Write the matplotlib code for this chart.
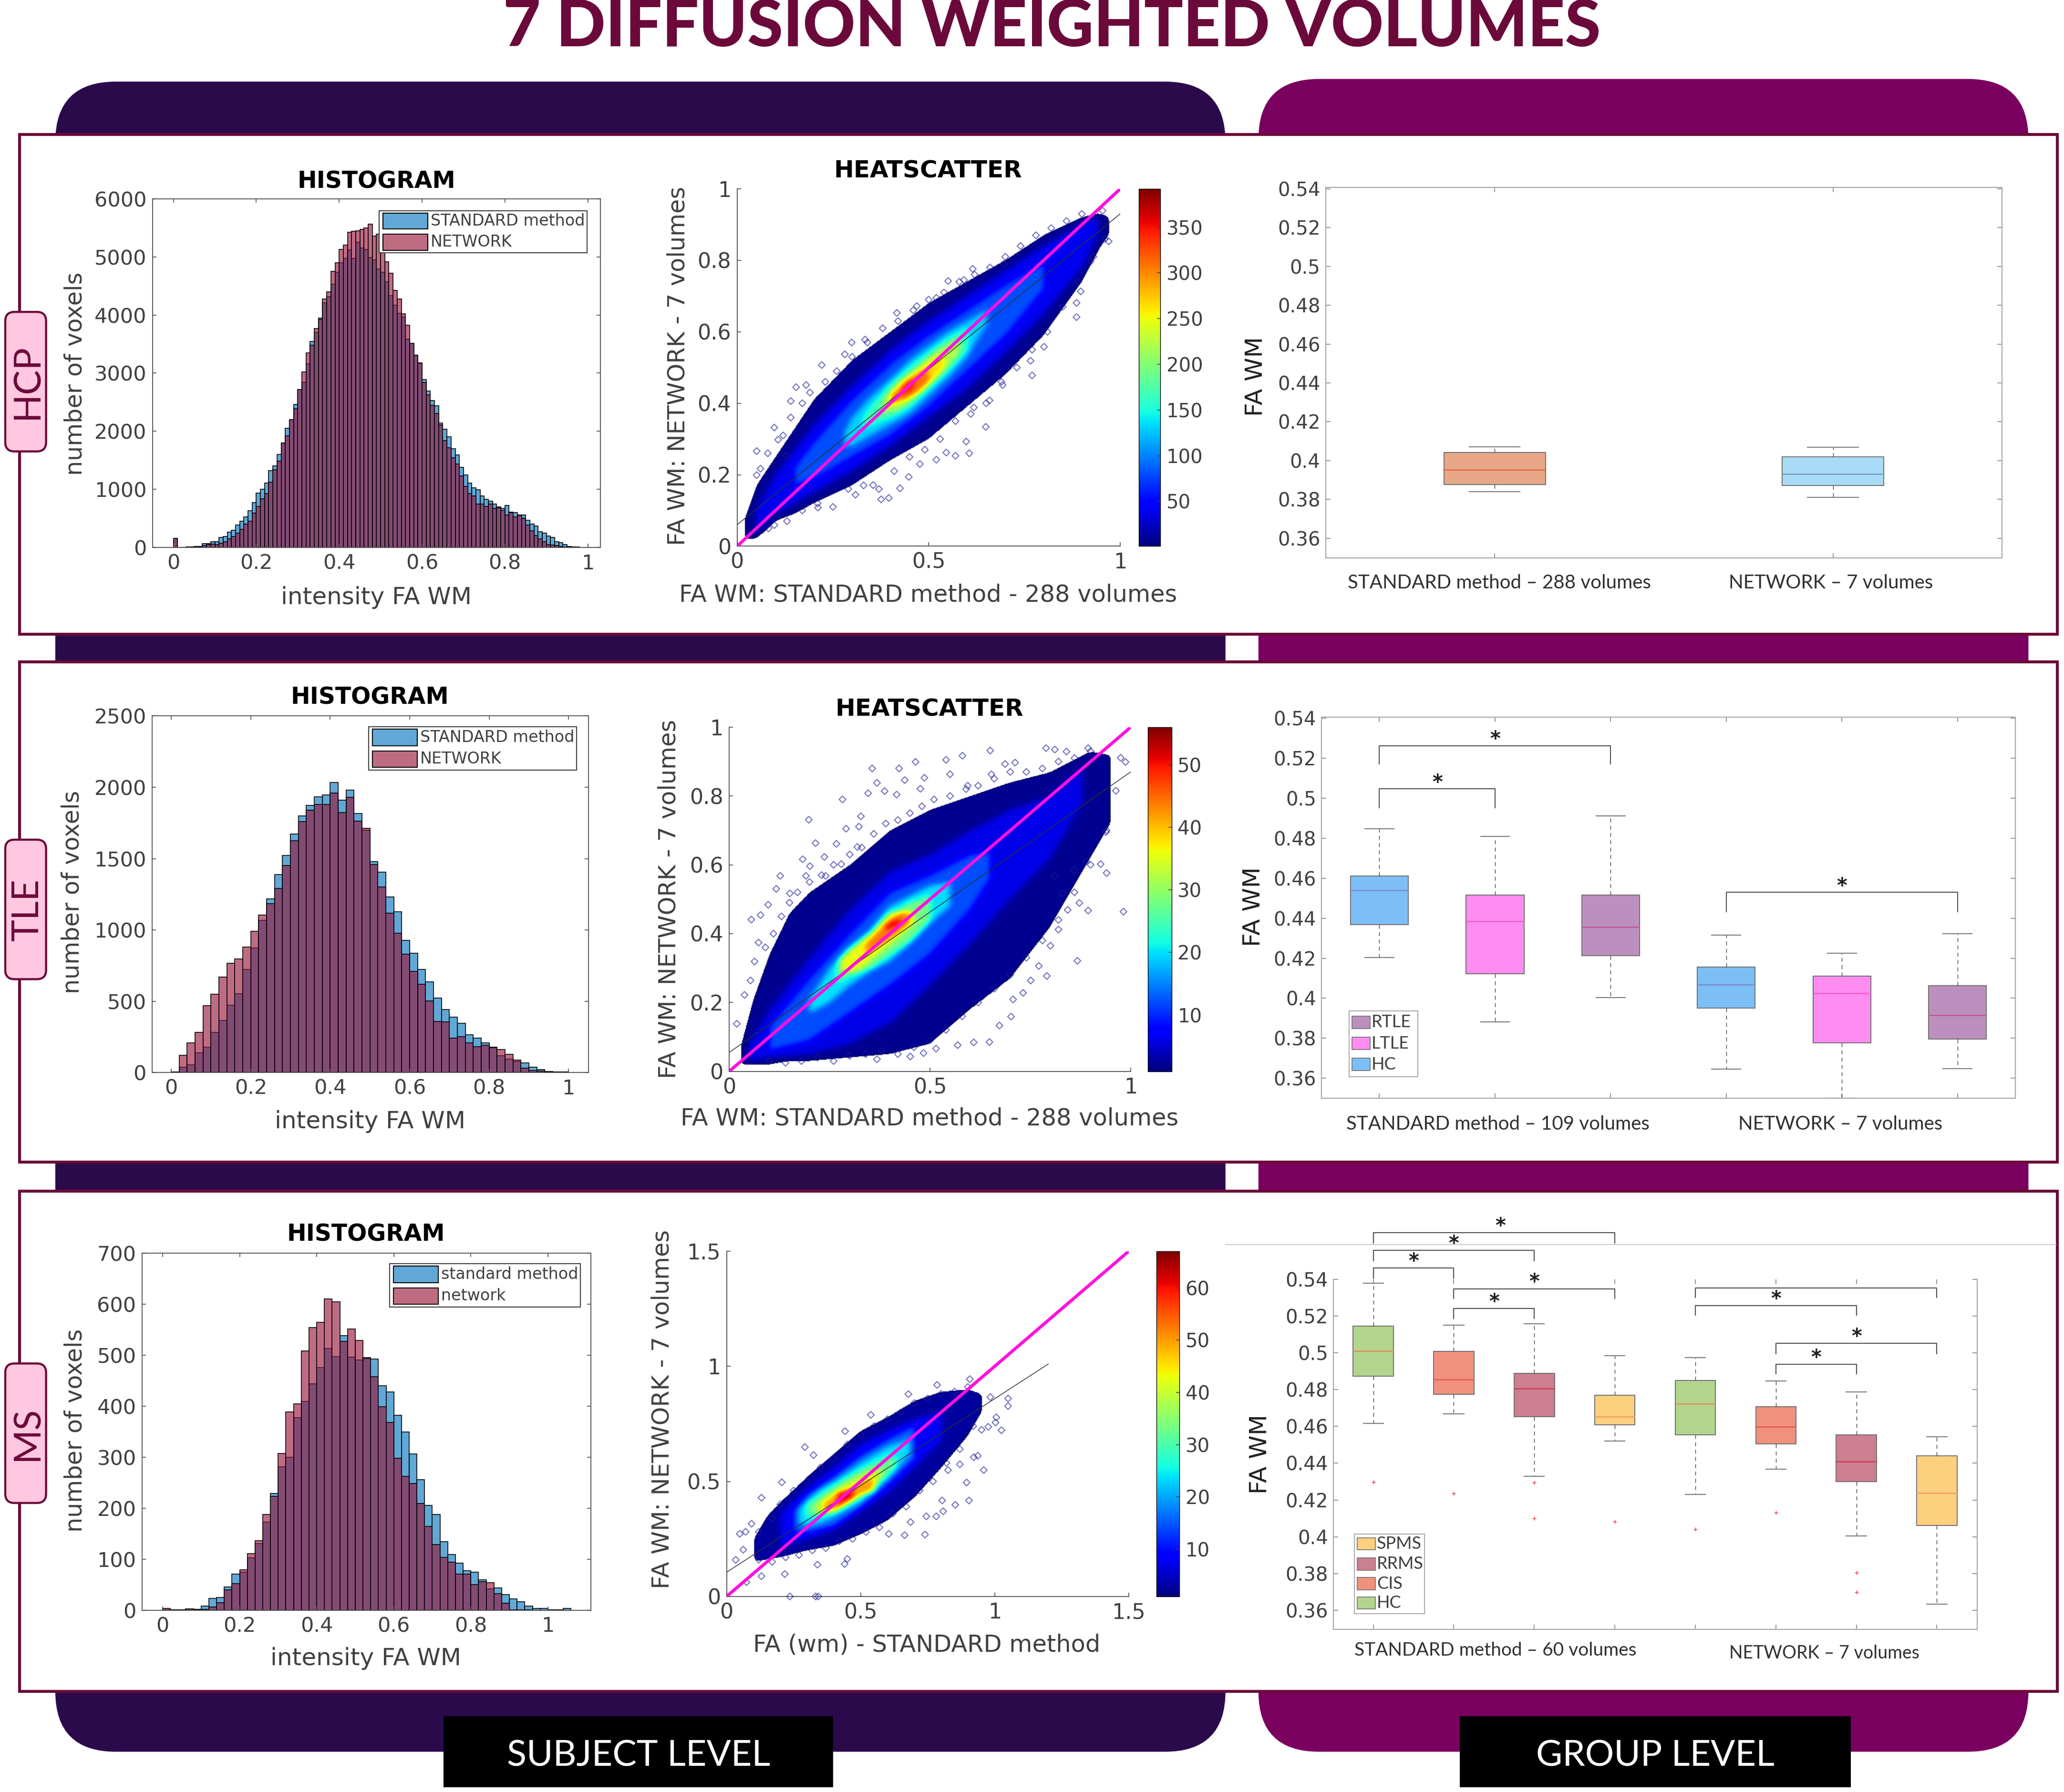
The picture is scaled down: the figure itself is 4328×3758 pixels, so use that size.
import matplotlib
matplotlib.use("Agg")
import matplotlib.pyplot as plt
import numpy as np
from matplotlib.cm import ScalarMappable
from matplotlib.colors import Normalize
from matplotlib.patches import FancyBboxPatch, Rectangle

# layout is measured on a 1568 wide copy of the picture
W, H = 1568.0, 1361.6
MAROON = "#6B0A3A"
DARK = "#2B0A4C"
PURPLE = "#7A0060"
PINK = "#FFC8E0"
TXT = "#404040"
BLUE_F = (0.00, 0.45, 0.74, 0.62)
RED_F = (0.60, 0.07, 0.22, 0.62)
EDGE = (0, 0, 0, 0.9)

# histograms: counts per bin
HCP_STD = [160, 4, 4, 6, 10, 16, 20, 68, 68, 100, 100, 175, 190, 266, 296, 390, 450, 525, 630, 770,
           940, 1000, 1105, 1320, 1400, 1600, 1800, 2050, 2200, 2460, 2720, 2840, 3160, 3545, 3700,
           3945, 4210, 4315, 4530, 4735, 4900, 4970, 5120, 4970, 5255, 5150, 5130, 4990, 4950, 4790,
           4735, 4570, 4330, 4170, 4030, 3960, 3585, 3510, 3305, 3165, 2890, 2690, 2525, 2435, 2145,
           2035, 1905, 1700, 1595, 1380, 1245, 1105, 1030, 990, 885, 830, 800, 745, 695, 670,
           725, 610, 600, 560, 560, 465, 400, 370, 275, 245, 195, 175, 100, 80, 50, 20, 10, 6]
HCP_NET = [160, 4, 4, 6, 10, 16, 20, 30, 50, 60, 50, 76, 100, 145, 194, 250, 315, 400, 450, 590,
           705, 835, 925, 1125, 1340, 1485, 1800, 1920, 2200, 2390, 2720, 3020, 3350, 3480, 3765,
           3920, 4275, 4400, 4750, 4895, 5130, 5205, 5425, 5440, 5450, 5475, 5495, 5565, 5360, 5390,
           5100, 4915, 4715, 4420, 4275, 4020, 3820, 3510, 3305, 3175, 2840, 2630, 2450, 2310, 2110,
           1835, 1715, 1540, 1435, 1235, 1055, 930, 885, 745, 745, 705, 745, 670, 685, 645,
           560, 600, 525, 550, 505, 390, 290, 210, 145, 100, 50, 40, 30, 20, 10, 8, 8, 5]
TLE_STD = [5, 38, 56, 140, 178, 282, 366, 472, 553, 723, 874, 1067, 1218, 1390, 1523, 1672, 1799,
           1873, 1932, 1948, 2032, 1910, 1980, 1815, 1700, 1478, 1406, 1232, 1128, 927, 836, 723,
           635, 524, 441, 389, 344, 264, 242, 210, 178, 118, 95, 79, 68, 38, 22, 8, 5, 5]
TLE_NET = [5, 122, 208, 282, 470, 551, 671, 768, 798, 881, 992, 1105, 1184, 1292, 1451, 1627, 1760,
           1840, 1880, 1880, 1959, 1824, 1930, 1763, 1711, 1458, 1300, 1119, 976, 829, 710, 621,
           502, 359, 355, 242, 253, 208, 181, 192, 174, 163, 129, 88, 32, 16, 11, 5, 5, 5]
MS_STD = [1, 1, 1, 3, 2, 8, 23, 25, 46, 71, 75, 103, 131, 173, 229, 281, 300, 377, 409, 444, 475,
          513, 497, 538, 496, 490, 495, 492, 440, 428, 382, 349, 306, 256, 205, 188, 134, 109, 92,
          77, 75, 60, 42, 44, 31, 22, 17, 8, 4, 4, 1, 1, 4]
MS_NET = [4, 1, 1, 3, 2, 2, 6, 15, 40, 52, 79, 111, 136, 188, 223, 307, 388, 404, 508, 554, 564,
          610, 604, 527, 551, 529, 493, 458, 399, 368, 298, 262, 248, 209, 164, 129, 104, 94, 71,
          71, 50, 56, 54, 33, 14, 1, 1, 1, 0, 0, 1, 1, 0]

HIST_XTICKS = [0, 0.2, 0.4, 0.6, 0.8, 1]
HIST_XLABELS = ["0", "0.2", "0.4", "0.6", "0.8", "1"]
HCP_YTICKS = [0, 1000, 2000, 3000, 4000, 5000, 6000]
TLE_YTICKS = [0, 500, 1000, 1500, 2000, 2500]
MS_YTICKS = [0, 100, 200, 300, 400, 500, 600, 700]

# heatscatter: density bands, each one (count, x, lower y, upper y)
HCP_BANDS = [
    (8, [.02, .05, .1, .15, .2, .3, .4, .5, .6, .7, .8, .9, .95, .97],
     [.02, .02, .07, .09, .12, .17, .24, .30, .39, .48, .59, .74, .84, .87],
     [.08, .17, .25, .33, .41, .52, .60, .68, .74, .80, .87, .92, .93, .92]),
    (40, [.05, .1, .2, .3, .4, .5, .6, .7, .8, .9, .94],
     [.04, .09, .15, .21, .28, .36, .44, .54, .65, .78, .87],
     [.10, .20, .34, .45, .55, .63, .70, .77, .84, .90, .92]),
    (80, [.15, .2, .3, .4, .5, .6, .7, .8],
     [.17, .19, .25, .31, .39, .49, .59, .72],
     [.22, .29, .41, .51, .59, .66, .73, .79]),
    (130, [.28, .3, .35, .4, .45, .5, .55, .6, .65],
     [.28, .28, .31, .34, .37, .42, .47, .53, .62],
     [.32, .36, .42, .47, .52, .56, .60, .63, .66]),
    (170, [.33, .35, .4, .45, .5, .55, .6],
     [.33, .34, .36, .39, .44, .49, .55],
     [.36, .39, .45, .50, .54, .58, .61]),
    (220, [.38, .42, .46, .5, .54, .58],
     [.37, .38, .41, .45, .49, .54],
     [.41, .46, .49, .53, .56, .58]),
    (265, [.40, .44, .48, .52, .54],
     [.39, .41, .43, .47, .50],
     [.43, .47, .50, .53, .54]),
    (310, [.40, .44, .48, .50],
     [.40, .41, .44, .46],
     [.42, .46, .49, .49]),
    (350, [.43, .46], [.42, .44], [.45, .47]),
]
TLE_BANDS = [
    (2, [.03, .06, .1, .15, .2, .3, .4, .5, .6, .7, .8, .9, .95],
     [.02, .02, .02, .03, .03, .04, .05, .08, .18, .27, .42, .62, .72],
     [.08, .21, .34, .46, .52, .60, .70, .76, .80, .84, .87, .93, .92]),
    (6, [.05, .1, .2, .3, .4, .5, .6, .7, .8, .88],
     [.03, .04, .05, .08, .14, .25, .37, .50, .62, .78],
     [.08, .18, .33, .47, .58, .63, .70, .76, .80, .88]),
    (12, [.1, .2, .3, .4, .5, .6, .65],
     [.06, .09, .17, .25, .34, .47, .56],
     [.13, .27, .40, .52, .57, .63, .64]),
    (20, [.2, .25, .3, .35, .4, .45, .5, .55],
     [.17, .20, .25, .29, .32, .37, .43, .48],
     [.21, .30, .36, .41, .48, .51, .54, .55]),
    (28, [.27, .3, .35, .4, .45, .5],
     [.26, .28, .30, .34, .38, .44],
     [.32, .36, .40, .45, .49, .51]),
    (36, [.28, .32, .36, .40, .44, .46],
     [.29, .29, .33, .37, .41, .43],
     [.33, .37, .41, .46, .47, .46]),
    (44, [.34, .38, .42, .45], [.34, .37, .40, .43], [.37, .42, .46, .46]),
    (52, [.39, .41, .43], [.41, .42, .43], [.43, .44, .44]),
]
MS_BANDS = [
    (3, [.1, .15, .2, .3, .4, .5, .6, .7, .8, .9, .95],
     [.15, .16, .17, .2, .22, .27, .33, .43, .56, .7, .8],
     [.25, .35, .41, .52, .62, .72, .78, .85, .89, .9, .88]),
    (8, [.2, .3, .4, .5, .6, .7, .8],
     [.22, .25, .29, .37, .45, .56, .68],
     [.36, .47, .56, .66, .72, .77, .8]),
    (16, [.25, .3, .4, .5, .6, .7],
     [.28, .28, .31, .39, .49, .60],
     [.37, .44, .52, .61, .68, .74]),
    (24, [.27, .3, .35, .4, .5, .6, .68],
     [.32, .31, .32, .35, .41, .51, .62],
     [.38, .42, .47, .50, .58, .65, .68]),
    (32, [.3, .35, .4, .5, .6, .63],
     [.35, .35, .36, .43, .53, .56],
     [.40, .44, .48, .55, .61, .60]),
    (40, [.33, .4, .45, .5, .55, .58],
     [.36, .37, .40, .44, .47, .52],
     [.40, .46, .50, .53, .56, .55]),
    (50, [.36, .4, .45, .5, .55],
     [.37, .37, .41, .44, .46],
     [.41, .44, .46, .50, .52]),
    (62, [.41, .47], [.39, .43], [.45, .47]),
]

# isolated diamonds around the clouds
HCP_OUT_X = [.417, .299, .221, .281, .154, .180, .140, .097, .051, .551, .615, .696, .886, .770, .801, .954,
             .970, .649, .598, .606, .546, .520, .448, .376, .396, .309, .211, .097, .082, .923, .897, .886,
             .766, .693, .618, .659, .570, .477, .425, .355, .061, .051, .128, .107, .334, .469, .520, .592,
             .08, .12, .14, .17, .19, .23, .26, .30, .34, .38, .42, .46, .50, .54, .58, .62, .66, .70, .74,
             .78, .82, .86, .90, .10, .13, .17, .21, .25, .29, .33, .37, .41, .45, .49, .53, .57, .61, .65,
             .69, .73, .77, .81, .85, .89, .93, .96]
HCP_OUT_Y = [.653, .570, .507, .537, .445, .451, .406, .332, .266, .742, .776, .790, .641, .478, .558, .939,
             .853, .334, .293, .260, .262, .242, .194, .131, .135, .144, .108, .059, .050, .797, .713, .681,
             .519, .451, .388, .408, .253, .230, .162, .171, .217, .199, .253, .298, .578, .672, .695, .745,
             .26, .31, .36, .40, .43, .46, .49, .53, .57, .61, .63, .66, .69, .71, .74, .76, .78, .81, .84,
             .87, .89, .91, .93, .08, .07, .10, .12, .11, .16, .17, .16, .21, .25, .27, .30, .35, .37, .40,
             .46, .50, .55, .60, .67, .74, .81, .86]
TLE_OUT_X = [.198, .356, .423, .464, .540, .581, .650, .789, .811, .894, .840, .975, .987, .282, .346, .387,
             .437, .486, .550, .328, .291, .323, .215, .267, .183, .201, .237, .127, .117, .055, .078, .063,
             .038, .019, .982, .894, .872, .940, .925, .938, .963, .867, .820, .843, .791, .751, .732, .707,
             .702, .673, .648, .609, .569, .515, .484, .451, .368, .771, .800, .830, .859, .889, .810, .368,
             .417, .476, .594, .653, .687, .712, .279, .240, .319, .191, .151, .097, .073, .053,
             .09, .11, .13, .15, .17, .20, .23, .26, .30, .33, .36, .39, .42, .45, .48, .51, .55, .59, .62,
             .66, .70, .74, .78, .82, .86, .90, .10, .14, .18, .22, .26, .30, .34, .38, .42, .46, .50, .54,
             .58, .62, .66, .70, .74, .78, .82, .86, .90, .94]
TLE_OUT_Y = [.731, .880, .880, .899, .905, .917, .932, .939, .935, .939, .929, .911, .899, .790, .808, .814,
             .846, .853, .863, .741, .705, .711, .663, .661, .616, .596, .623, .568, .530, .441, .454, .319,
             .222, .138, .464, .467, .489, .576, .602, .695, .815, .321, .412, .469, .277, .264, .228, .209,
             .159, .133, .085, .084, .076, .066, .053, .043, .035, .306, .365, .517, .585, .610, .568, .838,
             .804, .821, .830, .863, .893, .897, .602, .568, .652, .568, .517, .484, .374, .264,
             .36, .40, .45, .49, .52, .55, .57, .60, .63, .65, .69, .72, .73, .75, .77, .79, .80, .82, .83,
             .85, .87, .87, .88, .90, .91, .93, .03, .025, .03, .04, .03, .045, .05, .06, .05, .07, .09, .12,
             .16, .20, .24, .28, .33, .38, .44, .52, .60, .70]
MS_OUT_X = [.907, .785, .678, .538, .292, .324, .442, .206, .130, .093, .049, .071, .034, .062, .074, .130,
            .217, .339, .440, .450, .740, .664, .605, .904, .853, .895, .782, .808, .959, .937, .922, 1.025,
            1.003, 1.006, .976, .951, 1.050, 1.050, .984, .236, .332, .342, .686, .804, .826, .870, .745,
            .12, .17, .20, .25, .30, .35, .40, .45, .50, .55, .60, .65, .70, .75, .80, .85, .90,
            .12, .17, .22, .27, .32, .37, .42, .47, .52, .57, .62, .67, .72, .77, .82, .87, .92]
MS_OUT_Y = [.944, .919, .879, .789, .649, .614, .718, .496, .429, .316, .272, .281, .159, .203, .062, .088,
            .097, .138, .141, .163, .269, .266, .272, .417, .398, .495, .348, .370, .549, .611, .605, .722,
            .756, .778, .737, .724, .860, .827, .866, 0, 0, 0, .323, .417, .549, .574, .348,
            .28, .34, .40, .46, .50, .56, .60, .66, .70, .74, .77, .80, .84, .86, .88, .89, .91,
            .16, .15, .17, .18, .20, .21, .24, .25, .28, .30, .36, .39, .46, .50, .58, .64, .74]

# fit lines: intercept, value at the right end, right end
HCP_FIT = (0.06, 0.93, 1.0)
TLE_FIT = (0.055, 0.87, 1.0)
MS_FIT = (0.105, 1.01, 1.2)

# box plots: low whisker, q1, median, q3, high whisker
HCP_BOX = [(.3841, .3877, .3952, .4041, .4071), (.381, .3872, .3932, .4019, .4068)]
TLE_BOX = [(.4205, .4369, .454, .4612, .4848), (.3883, .4123, .4385, .4517, .4809),
           (.4004, .4213, .4356, .4517, .4913), (.3645, .395, .4067, .4155, .4317),
           (.35, .3776, .4025, .411, .4226), (.3648, .3795, .3916, .4062, .4322)]
MS_BOX = [(.4616, .4872, .5011, .5146, .5379), (.4668, .4774, .4856, .5008, .5151),
          (.4328, .4652, .4806, .4888, .5158), (.452, .4609, .4654, .4769, .4985),
          (.4229, .4555, .4722, .4849, .4973), (.4368, .4506, .4597, .4706, .4848),
          (.4004, .43, .441, .4555, .4787), (.3635, .4063, .4239, .444, .4543)]
MS_FLIERS = [[.4297], [.4236], [.4294, .41], [.4083], [.4041], [.4133], [.3806, .3699], []]

BOX_YTICKS = [.36, .38, .4, .42, .44, .46, .48, .5, .52, .54]
BOX_YLABELS = ["0.36", "0.38", "0.4", "0.42", "0.44", "0.46", "0.48", "0.5", "0.52", "0.54"]

# brackets: from, to, foot, top, star (None for no star)
TLE_BRACKETS = [(1, 3, .5171, .5263, 2), (1, 2, .4953, .5047, 1.5), (4, 6, .4433, .453, 5)]
MS_BRACKETS = [(1, 4, .5595, .5653, 2.58), (1, 3, .5501, .5557, 2), (1, 2, .5405, .5461, 1.5),
               (2, 4, .5295, .5348, 3), (2, 3, .5187, .524, 2.5), (5, 8, .53, .5353, None),
               (5, 7, .5205, .5257, 6), (6, 8, .4996, .5052, 7), (6, 7, .4886, .4938, 6.5)]

HCP_COLORS = [("#E8A888", "#E06A48"), ("#A8DCF6", "#7C9CC0")]
TLE_COLORS = [("#7CBFF6", "#7C8CD0"), ("#FF8CF0", "#F060D0"), ("#BC90BE", "#C05A98")]
MS_COLORS = [("#B2D58E", "#E09060"), ("#F0917E", "#E06050"), ("#CC7F90", "#D04060"), ("#FDD080", "#F0A060")]

fig = plt.figure(figsize=(43.28, 37.58), dpi=100, facecolor="white")


def box_axes(l, t, r, b, zorder=2):
    return fig.add_axes([l / W, 1 - b / H, (r - l) / W, (b - t) / H], zorder=zorder)


def layer(zorder):
    a = box_axes(0, 0, W, H, zorder)
    a.set_xlim(0, W)
    a.set_ylim(H, 0)
    a.axis("off")
    return a


bg = layer(0)
fg = layer(10)


def label(x, y, s, size, **kw):
    kw.setdefault("color", TXT)
    fg.text(x, y, s, fontsize=size, ha="center", va="center", **kw)


def hist_panel(pos, std, net, width, xlim, ymax, yticks, names, leg, title_xy, xlab_xy, ylab_xy):
    ax = box_axes(*pos)
    edges = np.arange(len(std)) * width
    ax.bar(edges, std, width, align="edge", fc=BLUE_F, ec=EDGE, lw=1.3)
    ax.bar(edges, net, width, align="edge", fc=RED_F, ec=EDGE, lw=1.3)
    ax.set_xlim(*xlim)
    ax.set_ylim(0, ymax)
    ax.set_xticks(HIST_XTICKS, HIST_XLABELS)
    ax.set_yticks(yticks)
    ax.tick_params(direction="in", top=True, right=True, length=6, width=1.1, color=TXT,
                   labelcolor=TXT, labelsize=31, pad=9)
    for s in ax.spines.values():
        s.set_color(TXT)
        s.set_linewidth(1.2)
    l, t, r, b = leg
    fg.add_patch(Rectangle((l, t), r - l, b - t, fc="white", ec=TXT, lw=1.5))
    h = (b - t) / 2
    for i, (name, c) in enumerate(zip(names, [BLUE_F, RED_F])):
        y = t + h * (i + 0.5)
        fg.add_patch(Rectangle((l + 3, y - h * .38), 34, h * .76, fc=c, ec="k", lw=1.5))
        fg.text(l + 39, y, name, fontsize=24, ha="left", va="center", color=TXT)
    label(*title_xy, "HISTOGRAM", 35, fontweight="bold", color="black")
    label(*xlab_xy, "intensity FA WM", 36)
    label(*ylab_xy, "number of voxels", 35.5, rotation=90)


def density_field(bands, lim, sigma):
    # paint the read bands on a grid, then soften the steps between them
    g = np.linspace(0, lim, 500)
    field = np.zeros((g.size, g.size))
    for count, x, lo, hi in bands:
        low = np.interp(g, x, lo)
        high = np.interp(g, x, hi)
        inside = (g >= x[0]) & (g <= x[-1])
        for j in np.nonzero(inside)[0]:
            field[(g >= low[j]) & (g <= high[j]), j] = count
    n = int(3 * sigma / (g[1] - g[0]))
    k = np.exp(-0.5 * (np.arange(-n, n + 1) * (g[1] - g[0]) / sigma) ** 2)
    k /= k.sum()
    field = np.apply_along_axis(lambda c: np.convolve(c, k, mode="same"), 0, field)
    field = np.apply_along_axis(lambda c: np.convolve(c, k, mode="same"), 1, field)
    return np.ma.masked_less(field, bands[0][0] * 0.5)


def scatter_panel(pos, cpos, bands, out_x, out_y, fit, lim, xticks, xlabels, yticks, ylabels,
                  vmin, vmax, cticks, xlab, xlab_xy, ylab_xy, title_xy=None):
    ax = box_axes(*pos)
    norm = Normalize(vmin, vmax)
    ax.scatter(out_x, out_y, s=52, marker="D", fc="none", ec="#1C1C96", lw=1.6, alpha=0.6,
               zorder=4, clip_on=False)
    ax.imshow(density_field(bands, lim, 0.007 * lim), extent=(0, lim, 0, lim), origin="lower", cmap="jet",
              norm=norm, aspect="auto", interpolation="bilinear", zorder=3)
    ax.plot([0, fit[2]], [fit[0], fit[1]], color="#303030", lw=1.1, zorder=5)
    ax.plot([0, lim], [0, lim], color="#FF10E0", lw=4.8, zorder=6)
    ax.set_xlim(0, lim)
    ax.set_ylim(0, lim)
    ax.set_xticks(xticks, xlabels)
    ax.set_yticks(yticks, ylabels)
    ax.spines[["top", "right"]].set_visible(False)
    ax.tick_params(direction="in", length=6, width=1.1, color=TXT, labelcolor=TXT, labelsize=32, pad=9)
    for s in ["left", "bottom"]:
        ax.spines[s].set_color(TXT)
        ax.spines[s].set_linewidth(1.2)
    cax = box_axes(*cpos)
    cb = fig.colorbar(ScalarMappable(norm=norm, cmap="jet"), cax=cax)
    cb.set_ticks(cticks)
    cb.ax.tick_params(direction="in", length=5, width=1.1, color=TXT, labelcolor=TXT, labelsize=29, pad=9)
    cb.outline.set_linewidth(1.0)
    if title_xy:
        label(*title_xy, "HEATSCATTER", 36, fontweight="bold", color="black")
    label(*xlab_xy, xlab, 35.6)
    label(*ylab_xy, "FA WM: NETWORK - 7 volumes", 35.5, rotation=90)


def box_panel(pos, rows, colors, xlim, ylim, fliers=None, brackets=(), top=True):
    ax = box_axes(*pos)
    stats = []
    for i, (wl, q1, med, q3, wh) in enumerate(rows):
        stats.append(dict(whislo=wl, q1=q1, med=med, q3=q3, whishi=wh, fliers=fliers[i] if fliers else []))
    xs = np.arange(1, len(rows) + 1)
    bw = 0.3 if len(rows) == 2 else 0.5
    parts = ax.bxp(stats, positions=xs, widths=bw, patch_artist=True, capwidths=bw * 0.5,
                   whiskerprops=dict(color="#404040", lw=1.0, ls=(0, (6, 5))),
                   capprops=dict(color="#808080", lw=1.6),
                   boxprops=dict(edgecolor="#707070", lw=1.4),
                   flierprops=dict(marker="+", ms=6, mec="#F03040", mew=1.0))
    for i, box in enumerate(parts["boxes"]):
        face, med = colors[i % len(colors)]
        box.set_facecolor(face)
        parts["medians"][i].set_color(med)
        parts["medians"][i].set_linewidth(2)
    ax.set_xlim(*xlim)
    ax.set_ylim(*ylim)
    ax.set_xticks(xs, [""] * len(xs))
    ax.set_yticks(BOX_YTICKS, BOX_YLABELS)
    ax.tick_params(direction="in", top=True, right=True, length=7, width=1.3, color="#909090",
                   labelcolor=TXT, labelsize=29, pad=8)
    for s in ax.spines.values():
        s.set_color("#A8A8A8")
        s.set_linewidth(1.6)
    ax.spines["top"].set_visible(top)
    for a, b, foot, head, star in brackets:
        ax.plot([a, a, b, b], [foot, head, head, foot], color="#505050", lw=1.5, clip_on=False, zorder=6)
        if star:
            ax.text(star, head - 0.002, "*", fontsize=30, fontweight="bold", ha="center", va="bottom",
                    color="#202020", clip_on=False)
    return ax


def box_legend(l, t, r, b, names, colors, ys):
    fg.add_patch(Rectangle((l, t), r - l, b - t, fc="white", ec="#A8A8A8", lw=1.4))
    for name, c, y in zip(names, colors, ys):
        fg.add_patch(Rectangle((l + 2, y - 4.6), 14, 9.2, fc=c, ec="#707070", lw=1.2))
        fg.text(l + 17, y, name, fontsize=26, family="Lato", ha="left", va="center", color=TXT)


# frame and colour blocks behind the panels
bg.add_patch(FancyBboxPatch((42, 62), 889, 1269, boxstyle="round,pad=0,rounding_size=46", fc=DARK, ec="none"))
bg.add_patch(FancyBboxPatch((956, 60), 585, 1271, boxstyle="round,pad=0,rounding_size=46", fc=PURPLE, ec="none"))
for top, bottom in [(102, 482), (503, 883), (905, 1285)]:
    bg.add_patch(Rectangle((15, top), 1548, bottom - top, fc="white", ec=MAROON, lw=4.4))
for x0, x1, s in [(337, 633, "SUBJECT LEVEL"), (1109, 1406, "GROUP LEVEL")]:
    fg.add_patch(Rectangle((x0, 1304), x1 - x0, 54, fc="black", ec="none"))
    fg.text((x0 + x1) / 2, 1334, s, fontsize=54.5, family="Lato", color="white", ha="center", va="center")
for t, b, s in [(237, 343, "HCP"), (638, 744, "TLE"), (1036, 1142, "MS")]:
    fg.add_patch(FancyBboxPatch((4, t), 31, b - t, boxstyle="round,pad=0,rounding_size=7",
                                fc=PINK, ec=MAROON, lw=3.2))
    fg.text(21, (t + b) / 2, s, fontsize=56, family="Lato", color=MAROON, rotation=90, ha="center", va="center")
fg.text(799, 21, "7 DIFFUSION WEIGHTED VOLUMES", fontsize=98, family="Lato", fontweight="black",
        color=MAROON, ha="center", va="center")
fg.plot([931, 1562], [945.5, 945.5], color="#D0D0D0", lw=1.6)

# row 1, HCP
hist_panel((116, 151, 456, 416), HCP_STD, HCP_NET, 0.01, (-0.05, 1.03), 6000, HCP_YTICKS,
           ["STANDARD method", "NETWORK"], (288, 160, 446, 192), (286, 138), (286, 454), (57, 284))
scatter_panel((560, 143.5, 851, 415), (865, 143.5, 881.5, 415), HCP_BANDS, HCP_OUT_X, HCP_OUT_Y, HCP_FIT,
              1, [0, .5, 1], ["0", "0.5", "1"], [0, .2, .4, .6, .8, 1], ["0", "0.2", "0.4", "0.6", "0.8", "1"],
              1, 392, [50, 100, 150, 200, 250, 300, 350], "FA WM: STANDARD method - 288 volumes",
              (705, 452), (515, 278), (705, 130))
box_panel((1007, 142.5, 1521, 424), HCP_BOX, HCP_COLORS, (.5, 2.5), (.3498, .5406))
label(954, 286, "FA WM", 36, color="#202020", rotation=90)
label(1139, 443, "STANDARD method – 288 volumes", 29, family="Lato", color="#303030")
label(1391, 443, "NETWORK – 7 volumes", 29, family="Lato", color="#303030")

# row 2, TLE
hist_panel((115.7, 544, 447, 815), TLE_STD, TLE_NET, 0.02, (-0.0477, 1.0497), 2500, TLE_YTICKS,
           ["STANDARD method", "NETWORK"], (280, 552, 438, 585), (281, 530), (281, 852), (55, 678))
scatter_panel((554, 552.5, 859, 814), (872, 552.5, 890, 814), TLE_BANDS, TLE_OUT_X, TLE_OUT_Y, TLE_FIT,
              1, [0, .5, 1], ["0", "0.5", "1"], [0, .2, .4, .6, .8, 1], ["0", "0.2", "0.4", "0.6", "0.8", "1"],
              1, 56, [10, 20, 30, 40, 50], "FA WM: STANDARD method - 288 volumes",
              (706, 850), (508, 683), (706, 539))
box_panel((1004, 545, 1531, 834.5), TLE_BOX, TLE_COLORS, (.5, 6.5), (.35, .5405), brackets=TLE_BRACKETS)
box_legend(1025, 768, 1077, 818, ["RTLE", "LTLE", "HC"], ["#BC90BE", "#FF8CF0", "#7CBFF6"], [776.8, 792.8, 808.7])
label(952, 689, "FA WM", 36, color="#202020", rotation=90)
label(1138, 854, "STANDARD method – 109 volumes", 29, family="Lato", color="#303030")
label(1398, 854, "NETWORK – 7 volumes", 29, family="Lato", color="#303030")

# row 3, MS
hist_panel((108, 952, 449, 1223.5), MS_STD, MS_NET, 0.02, (-0.053, 1.112), 700, MS_YTICKS,
           ["standard method", "network"], (296, 960, 441, 993), (278, 938), (278, 1260), (57, 1087))
scatter_panel((552, 950.7, 857.5, 1213), (878.6, 950.7, 896, 1213), MS_BANDS, MS_OUT_X, MS_OUT_Y, MS_FIT,
              1.5, [0, .5, 1, 1.5], ["0", "0.5", "1", "1.5"], [0, .5, 1, 1.5], ["0", "0.5", "1", "1.5"],
              1, 67, [10, 20, 30, 40, 50, 60], "FA (wm) - STANDARD method", (704, 1250), (503, 1071))
box_panel((1013, 972, 1502, 1238), MS_BOX, MS_COLORS, (.505, 8.5), (.3497, .539), fliers=MS_FLIERS,
          brackets=MS_BRACKETS, top=False)
box_legend(1029, 1165.5, 1082, 1226, ["SPMS", "RRMS", "CIS", "HC"], ["#FDD080", "#CC7F90", "#F0917E", "#B2D58E"],
           [1173, 1188.4, 1203.3, 1218])
label(957, 1105, "FA WM", 36, color="#202020", rotation=90)
label(1136, 1254, "STANDARD method – 60 volumes", 28, family="Lato", color="#303030")
label(1386, 1256, "NETWORK – 7 volumes", 27, family="Lato", color="#303030")

fig.savefig("out.png", dpi=100)
